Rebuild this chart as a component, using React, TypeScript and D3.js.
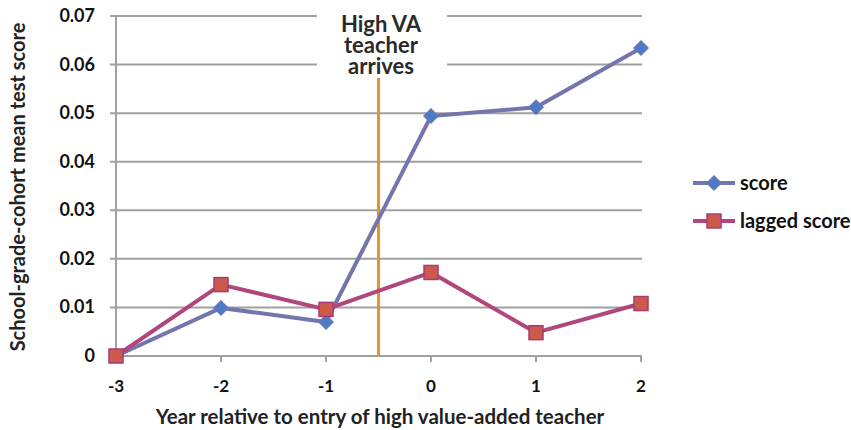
import React from "react";
import * as d3 from "d3";

const years = [-3, -2, -1, 0, 1, 2];
const score = [0, 0.0099, 0.007, 0.0494, 0.0512, 0.0634];
const lagged = [0, 0.0147, 0.0096, 0.0172, 0.0048, 0.0108];
const yTicks = [0, 0.01, 0.02, 0.03, 0.04, 0.05, 0.06, 0.07];
const yTickLabels = ["0", "0.01", "0.02", "0.03", "0.04", "0.05", "0.06", "0.07"];
const eventX = -0.5;
const annotation = ["High VA", "teacher", "arrives"];

const FONT = "Lato, 'Open Sans', sans-serif";

export default function App() {
  const W = 851, H = 430;
  const x = d3.scaleLinear().domain([-3, 2]).range([116, 641]);
  const y = d3.scaleLinear().domain([0, 0.07]).range([356, 16]);
  const line = d3.line<number>().x((_, i) => x(years[i])).y((d) => y(d));
  const scoreColor = "#7575AD";
  const lagColor = "#B0467C";
  const boxL = 317, boxR = 447;

  const diamond = (cx: number, cy: number, r: number, key: any) => (
    <path key={key} d={`M${cx},${cy - r}L${cx + r},${cy}L${cx},${cy + r}L${cx - r},${cy}Z`} fill="#4A7CC4" stroke="#6A78B8" strokeWidth={1.5} />
  );
  const square = (cx: number, cy: number, s: number, key: any) => (
    <rect key={key} x={cx - s / 2} y={cy - s / 2} width={s} height={s} fill="#CC5A4C" stroke="#A63C78" strokeWidth={1.5} />
  );

  return (
    <svg width={W} height={H} style={{ position: "absolute", left: 0, top: 0, background: "#fff" }}>
      {yTicks.map((t, i) => {
        const yy = y(t);
        const interrupted = yy < 75;
        return (
          <g key={i}>
            {interrupted ? (
              <>
                <line x1={110} x2={boxL} y1={yy} y2={yy} stroke="#A0A0A0" strokeWidth={2} />
                <line x1={boxR} x2={642} y1={yy} y2={yy} stroke="#A0A0A0" strokeWidth={2} />
              </>
            ) : (
              <line x1={110} x2={642} y1={yy} y2={yy} stroke="#A0A0A0" strokeWidth={2} />
            )}
            <text x={95} y={yy + 6} textAnchor="end" fontFamily={FONT} fontWeight={700} fontSize={18} fill="#111">
              {yTickLabels[i]}
            </text>
          </g>
        );
      })}
      <line x1={116} x2={116} y1={16} y2={357} stroke="#A0A0A0" strokeWidth={2} />
      {years.map((yr) => (
        <g key={yr}>
          <line x1={x(yr)} x2={x(yr)} y1={356} y2={362} stroke="#A0A0A0" strokeWidth={2} />
          <text x={x(yr)} y={392} textAnchor="middle" fontFamily={FONT} fontWeight={700} fontSize={17} fill="#111">
            {yr}
          </text>
        </g>
      ))}
      <line x1={x(eventX)} x2={x(eventX)} y1={78} y2={356} stroke="#E8922A" strokeWidth={3} />
      <text textAnchor="middle" fontFamily={FONT} fontWeight={700} fontSize={22} fill="#2A2A2A">
        {annotation.map((t, i) => (
          <tspan key={i} x={381} y={32 + i * 21}>{t}</tspan>
        ))}
      </text>
      <path d={line(score) || ""} fill="none" stroke={scoreColor} strokeWidth={4} />
      <path d={line(lagged) || ""} fill="none" stroke={lagColor} strokeWidth={4} />
      {score.map((v, i) => diamond(x(years[i]), y(v), 7, "d" + i))}
      {lagged.map((v, i) => square(x(years[i]), y(v), 14, "s" + i))}
      <line x1={693} x2={735} y1={183} y2={183} stroke={scoreColor} strokeWidth={4} />
      {diamond(714, 183, 7, "ld")}
      <text x={740} y={190} fontFamily={FONT} fontWeight={700} fontSize={20} fill="#111">score</text>
      <line x1={693} x2={735} y1={221} y2={221} stroke={lagColor} strokeWidth={4} />
      {square(714, 221, 14, "ls")}
      <text x={740} y={228} fontFamily={FONT} fontWeight={700} fontSize={20} fill="#111">lagged score</text>
      <text x={380} y={424} textAnchor="middle" fontFamily={FONT} fontWeight={700} fontSize={20.5} fill="#222">
        Year relative to entry of high value-added teacher
      </text>
      <text transform={`translate(25,187) rotate(-90)`} textAnchor="middle" fontFamily={FONT} fontWeight={700} fontSize={20} fill="#222">
        School-grade-cohort mean test score
      </text>
    </svg>
  );
}
